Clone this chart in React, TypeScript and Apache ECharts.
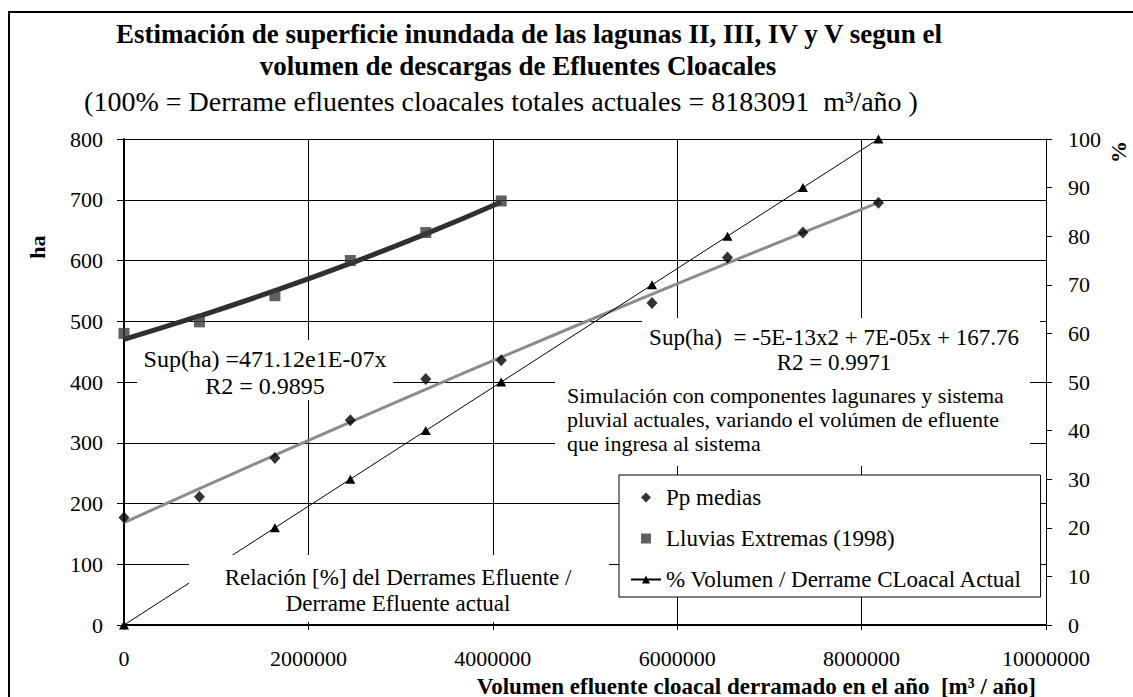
import React, { useEffect, useRef } from "react";
import * as echarts from "echarts";

// ---- data ----
const xVals = [0, 818309, 1636618, 2454927, 3273236, 4091546, 5727164, 6545473, 7363782, 8183091];
const ppMedias = [177, 211, 275, 337, 405, 436, 530, 605, 646, 695];
const lluviasX = [0, 818309, 1636618, 2454927, 3273236, 4091546];
const lluviasExtremas = [480, 499, 542, 600, 646, 698];
const pctX = [0, 1636618, 2454927, 3273236, 4091546, 5727164, 6545473, 7363782, 8183091];
const pctVol = [0, 20, 30, 40, 50, 70, 80, 90, 100];

const seriesNames = ["Pp medias", "Lluvias Extremas (1998)", "% Volumen / Derrame CLoacal Actual"];
const titleLines = [
  "Estimación de superficie inundada de las lagunas II, III, IV y V segun el",
  "volumen de descargas de Efluentes Cloacales",
];
const subtitle = "(100% = Derrame efluentes cloacales totales actuales = 8183091  m³/año )";
const xAxisName = "Volumen efluente cloacal derramado en el año  [m³ / año]";
const eqExp = "Sup(ha) =471.12e1E-07x\nR2 = 0.9895";
const eqPoly = "Sup(ha)  = -5E-13x2 + 7E-05x + 167.76\nR2 = 0.9971";
const noteSim = "Simulación con componentes lagunares y sistema\npluvial actuales, variando el volúmen de efluente\nque ingresa al sistema";
const noteRel = "Relación [%] del Derrames Efluente /\nDerrame Efluente actual";

// least-squares quadratic fit (Excel polynomial trendline)
function polyFit2(xs: number[], ys: number[]) {
  const u = xs.map((x) => x / 1e6);
  let s0 = 0, s1 = 0, s2 = 0, s3 = 0, s4 = 0, t0 = 0, t1 = 0, t2 = 0;
  u.forEach((x, i) => {
    const y = ys[i];
    s0 += 1; s1 += x; s2 += x * x; s3 += x * x * x; s4 += x * x * x * x;
    t0 += y; t1 += x * y; t2 += x * x * y;
  });
  const det = (m: number[][]) =>
    m[0][0] * (m[1][1] * m[2][2] - m[1][2] * m[2][1]) -
    m[0][1] * (m[1][0] * m[2][2] - m[1][2] * m[2][0]) +
    m[0][2] * (m[1][0] * m[2][1] - m[1][1] * m[2][0]);
  const A = [[s0, s1, s2], [s1, s2, s3], [s2, s3, s4]];
  const B = [t0, t1, t2];
  const D = det(A);
  const coef = [0, 1, 2].map((k) => det(A.map((row, r) => row.map((v, c) => (c === k ? B[r] : v)))) / D);
  return (x: number) => { const v = x / 1e6; return coef[0] + coef[1] * v + coef[2] * v * v; };
}
// exponential fit (Excel exponential trendline)
function expFit(xs: number[], ys: number[]) {
  const n = xs.length;
  const ly = ys.map((y) => Math.log(y));
  const mx = xs.reduce((a, b) => a + b, 0) / n;
  const my = ly.reduce((a, b) => a + b, 0) / n;
  let sxy = 0, sxx = 0;
  xs.forEach((x, i) => { sxy += (x - mx) * (ly[i] - my); sxx += (x - mx) * (x - mx); });
  const b = sxy / sxx;
  const a = Math.exp(my - b * mx);
  return (x: number) => a * Math.exp(b * x);
}

const FONT = "Liberation Serif";

export default function App() {
  const ref = useRef<HTMLDivElement>(null);
  useEffect(() => {
    if (!ref.current) return;
    const chart = echarts.init(ref.current, undefined, { renderer: "svg" });
    const pf = polyFit2(xVals, ppMedias);
    const ef = expFit(lluviasX, lluviasExtremas);
    const txt = (text: string, x: number, y: number, opts: any = {}) => ({
      type: "text",
      z: 101,
      x, y,
      rotation: opts.rot || 0,
      style: {
        text, x: 0, y: 0,
        fill: "#000",
        fontFamily: FONT,
        fontSize: opts.size || 23,
        fontWeight: opts.bold ? "bold" : "normal",
        align: opts.align || "center",
        verticalAlign: "middle",
        lineHeight: opts.lh || 25,
      },
    });
    const box = (x1: number, y1: number, x2: number, y2: number) => ({
      type: "rect", z: 100,
      shape: { x: x1, y: y1, width: x2 - x1, height: y2 - y1 },
      style: { fill: "#fff", stroke: null },
    });
    const plain = (v: number) => String(Math.round(v));
    chart.setOption({
      animation: false,
      backgroundColor: "#fff",
      textStyle: { fontFamily: FONT },
      grid: { left: 124, right: 87, top: 139, bottom: 72 },
      xAxis: {
        type: "value", min: 0, max: 10000000, interval: 2000000,
        axisLine: { show: true, onZero: false, lineStyle: { color: "#000", width: 2 } },
        axisTick: { show: true, length: 5, lineStyle: { color: "#000" } },
        axisLabel: { color: "#000", fontSize: 22, fontFamily: FONT, margin: 22, formatter: plain },
        splitLine: { show: true, lineStyle: { color: "#000", width: 1 } },
      },
      yAxis: [
        {
          type: "value", min: 0, max: 800, interval: 100,
          axisLine: { show: true, lineStyle: { color: "#000", width: 2 } },
          axisTick: { show: true, length: 7, lineStyle: { color: "#000" } },
          axisLabel: { color: "#000", fontSize: 22, fontFamily: FONT, margin: 21, formatter: plain },
          splitLine: { show: true, lineStyle: { color: "#000", width: 1 } },
        },
        {
          type: "value", min: 0, max: 100, interval: 10, position: "right",
          axisLine: { show: true, lineStyle: { color: "#000", width: 1 } },
          axisTick: { show: true, length: 6, lineStyle: { color: "#000" } },
          axisLabel: { color: "#000", fontSize: 22, fontFamily: FONT, margin: 22, formatter: plain },
          splitLine: { show: false },
        },
      ],
      legend: {
        data: [
          { name: seriesNames[0], icon: "path://M5,0L10,5L5,10L0,5Z" },
          { name: seriesNames[1], icon: "path://M0,0L10,0L10,10L0,10Z" },
          { name: seriesNames[2] },
        ],
        orient: "vertical",
        left: 619, top: 475,
        padding: [10, 18, 5, 11],
        itemGap: 16,
        itemWidth: 30, itemHeight: 10,
        symbolKeepAspect: true,
        backgroundColor: "#fff",
        borderColor: "#000", borderWidth: 1,
        textStyle: { color: "#000", fontSize: 23, fontFamily: FONT, lineHeight: 25 },
        z: 50,
      },
      series: [
        {
          name: "trend-pp", type: "line", yAxisIndex: 0, z: 3,
          data: xVals.map((x) => [x, pf(x)]),
          showSymbol: false, symbol: "none",
          lineStyle: { color: "#8c8c8c", width: 3 },
          smooth: true,
        },
        {
          name: "trend-ll", type: "line", yAxisIndex: 0, z: 3,
          data: lluviasX.map((x) => [x, ef(x)]),
          showSymbol: false, symbol: "none",
          lineStyle: { color: "#303030", width: 5 },
          smooth: true,
        },
        {
          name: seriesNames[0], type: "scatter", yAxisIndex: 0, z: 4,
          symbol: "diamond", symbolSize: [11, 12],
          itemStyle: { color: "#000" },
          data: xVals.map((x, i) => [x, ppMedias[i]]),
        },
        {
          name: seriesNames[1], type: "scatter", yAxisIndex: 0, z: 4,
          symbol: "rect", symbolSize: 11,
          itemStyle: { color: "#3a3a3a" },
          data: lluviasX.map((x, i) => [x, lluviasExtremas[i]]),
        },
        {
          name: seriesNames[2], type: "line", yAxisIndex: 1, z: 4,
          symbol: "triangle", symbolSize: [10, 9], showSymbol: true,
          itemStyle: { color: "#000" },
          lineStyle: { color: "#000", width: 1 },
          data: pctX.map((x, i) => [x, pctVol[i]]),
        },
      ],
      graphic: [
        {
          type: "rect", z: 120,
          shape: { x: 9, y: 12, width: 1135, height: 700 },
          style: { fill: null, stroke: "#000", lineWidth: 2 },
        },
        txt(titleLines[0], 529, 34, { bold: true, size: 27 }),
        txt(titleLines[1], 518, 66, { bold: true, size: 27 }),
        txt(subtitle, 501, 101, { size: 28 }),
        txt("ha", 37, 247, { bold: true, size: 22, rot: Math.PI / 2 }),
        txt("%", 1118, 152, { bold: true, size: 22, rot: Math.PI / 2 }),
        txt(xAxisName, 1036, 686, { bold: true, size: 23, align: "right" }),
        box(137, 340, 393, 400),
        txt(eqExp, 265, 372, { lh: 27, size: 24 }),
        box(642, 318, 1040, 372),
        txt(eqPoly, 834, 350, { lh: 25 }),
        box(555, 372, 1030, 466),
        txt(noteSim, 567, 419, { align: "left", lh: 24, size: 22 }),
        box(189, 555, 609, 622),
        txt(noteRel, 398, 590, { lh: 26 }),
      ],
    });
    return () => chart.dispose();
  }, []);
  return (
    <div
      ref={ref}
      style={{ position: "fixed", left: 0, top: 0, width: 1133, height: 697, background: "#fff" }}
    />
  );
}
